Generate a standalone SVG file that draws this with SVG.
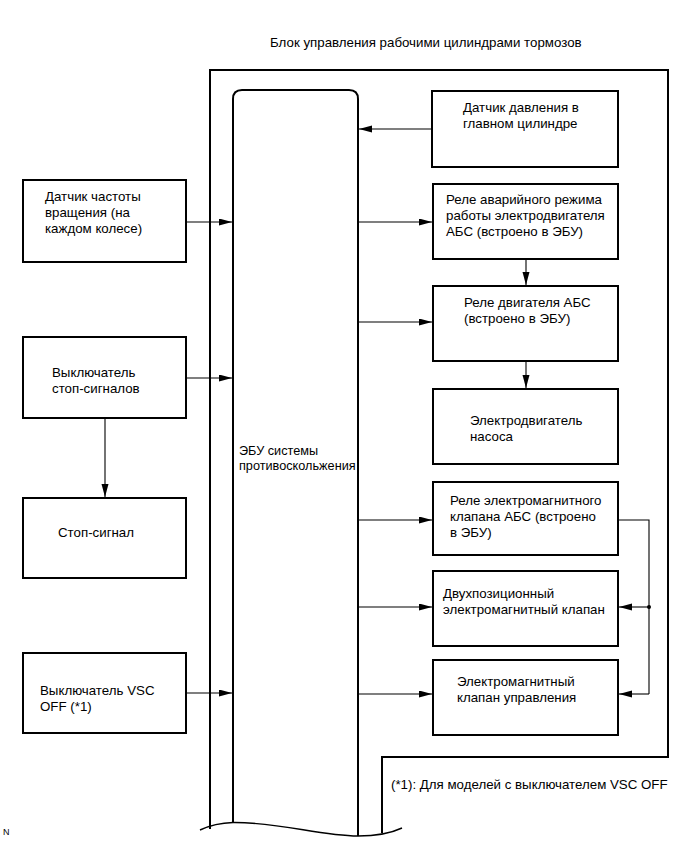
<svg xmlns="http://www.w3.org/2000/svg" width="690" height="855" viewBox="0 0 690 855">
<defs>
<marker id="ah" markerUnits="userSpaceOnUse" markerWidth="14" markerHeight="8" refX="13" refY="3.5" orient="auto">
<path d="M0,0 L13,3.5 L0,7 z" fill="#000"/>
</marker>
<style>
text{font-family:"Liberation Sans",Arial,sans-serif;font-size:13.3px;fill:#000}
.ecu-t{font-size:12.7px}
.box{fill:#fff;stroke:#000;stroke-width:2}
.thick{fill:none;stroke:#000;stroke-width:2}
.con{fill:none;stroke:#000;stroke-width:1.1}
.arr{fill:none;stroke:#000;stroke-width:1.1;marker-end:url(#ah)}
</style>
</defs>
<rect width="690" height="855" fill="#fff"/>
<text x="270" y="47">Блок управления рабочими цилиндрами тормозов</text>
<g id="outer-block">
<path class="thick" d="M210,829 L210,70 L668,70 L668,757 L382,757 L382,833"/>
</g>
<g id="ecu">
<path class="thick" d="M233,823 L233,99 Q233,90 242,90 L349,90 Q358,90 358,99 L358,836"/>
<text class="ecu-t" x="239" y="455">ЭБУ системы</text>
<text class="ecu-t" x="239" y="470">противоскольжения</text>
</g>
<path id="break" fill="none" stroke="#000" stroke-width="1.4" d="M200,830 Q215,823 233,822.5 C280,822 320,836 358,836 Q385,836 402,828"/>
<g id="master-cyl-sensor">
<rect class="box" x="432" y="91" width="186" height="76"/>
<text x="463" y="112">Датчик давления в</text>
<text x="463" y="128">главном цилиндре</text>
</g>
<g id="speed-sensor">
<rect class="box" x="23" y="180" width="163" height="82"/>
<text x="45" y="201">Датчик частоты</text>
<text x="45" y="217">вращения (на</text>
<text x="45" y="233">каждом колесе)</text>
</g>
<g id="stop-switch">
<rect class="box" x="23" y="337" width="163" height="81"/>
<text x="52" y="377">Выключатель</text>
<text x="52" y="393">стоп-сигналов</text>
</g>
<g id="stop-lamp">
<rect class="box" x="23" y="498" width="163" height="80"/>
<text x="58" y="537">Стоп-сигнал</text>
</g>
<g id="vsc-off-switch">
<rect class="box" x="23" y="653" width="163" height="80"/>
<text x="40" y="695">Выключатель VSC</text>
<text x="40" y="711">OFF (*1)</text>
</g>
<g id="fail-safe-relay">
<rect class="box" x="433" y="184" width="185" height="75"/>
<text x="446" y="204">Реле аварийного режима</text>
<text x="446" y="220">работы электродвигателя</text>
<text x="446" y="236">АБС (встроено в ЭБУ)</text>
</g>
<g id="motor-relay">
<rect class="box" x="433" y="286" width="185" height="75"/>
<text x="464" y="307">Реле двигателя АБС</text>
<text x="464" y="323">(встроено в ЭБУ)</text>
</g>
<g id="pump-motor">
<rect class="box" x="433" y="389" width="185" height="75"/>
<text x="470" y="425">Электродвигатель</text>
<text x="470" y="441">насоса</text>
</g>
<g id="solenoid-relay">
<rect class="box" x="433" y="482" width="185" height="73"/>
<text x="450" y="505">Реле электромагнитного</text>
<text x="450" y="521">клапана АБС (встроено</text>
<text x="450" y="537">в ЭБУ)</text>
</g>
<g id="two-position-valve">
<rect class="box" x="433" y="571" width="185" height="75"/>
<text x="443" y="598">Двухпозиционный</text>
<text x="443" y="614">электромагнитный клапан</text>
</g>
<g id="control-valve">
<rect class="box" x="433" y="660" width="185" height="75"/>
<text x="457" y="686">Электромагнитный</text>
<text x="457" y="702">клапан управления</text>
</g>
<g id="connectors">
<line class="arr" x1="432" y1="129" x2="359" y2="129"/>
<line class="arr" x1="186" y1="222" x2="232" y2="222"/>
<line class="arr" x1="186" y1="378" x2="232" y2="378"/>
<line class="arr" x1="105" y1="418" x2="105" y2="497"/>
<line class="arr" x1="186" y1="693" x2="232" y2="693"/>
<line class="arr" x1="359" y1="222" x2="432" y2="222"/>
<line class="arr" x1="526" y1="259" x2="526" y2="285"/>
<line class="arr" x1="359" y1="322" x2="432" y2="322"/>
<line class="arr" x1="526" y1="361" x2="526" y2="388"/>
<line class="arr" x1="359" y1="520" x2="432" y2="520"/>
<line class="arr" x1="359" y1="607" x2="432" y2="607"/>
<line class="arr" x1="359" y1="694" x2="432" y2="694"/>
<path class="con" d="M618,520 L649,520 L649,694"/>
<line class="arr" x1="649" y1="694" x2="619" y2="694"/>
<line class="arr" x1="649" y1="607" x2="619" y2="607"/>
<circle cx="649" cy="607" r="2" fill="#000"/>
</g>
<text x="391" y="789">(*1): Для моделей с выключателем VSC OFF</text>
<text x="3" y="835" style="font-size:9px">N</text>
</svg>
